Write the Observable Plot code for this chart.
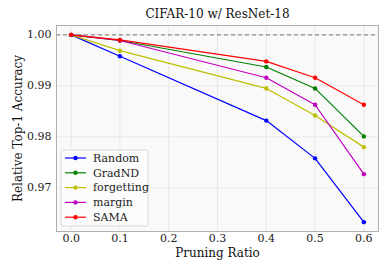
<!DOCTYPE html>
<html>
<head>
<meta charset="utf-8">
<script src="https://cdn.jsdelivr.net/npm/d3@7"></script>
<script src="https://cdn.jsdelivr.net/npm/@observablehq/plot@0.6"></script>
<style>
  html, body { margin: 0; padding: 0; background: #fff; }
  #chart svg { display: block; font-family: "DejaVu Serif", serif; }
</style>
</head>
<body>
<div id="chart"></div>
<script>
const title = "CIFAR-10 w/ ResNet-18";
const xLabel = "Pruning Ratio";
const yLabel = "Relative Top-1 Accuracy";
const ratios = [0.0, 0.1, 0.4, 0.5, 0.6];
const xTicks = [0.0, 0.1, 0.2, 0.3, 0.4, 0.5, 0.6];
const yTicks = [0.97, 0.98, 0.99, 1.00];
const seriesNames = ["Random", "GradND", "forgetting", "margin", "SAMA"];
const seriesColors = ["#0000ff", "#008000", "#bfbf00", "#bf00bf", "#ff0000"];
const randomVals = [1.0, 0.9958, 0.9832, 0.9758, 0.9633];
const gradndVals = [1.0, 0.9989, 0.9937, 0.9895, 0.9801];
const forgettingVals = [1.0, 0.9969, 0.9895, 0.9842, 0.9780];
const marginVals = [1.0, 0.9989, 0.9916, 0.9863, 0.9727];
const samaVals = [1.0, 0.9990, 0.9948, 0.9916, 0.9863];
const baseline = 1.0;

const allVals = [randomVals, gradndVals, forgettingVals, marginVals, samaVals];
const rows = [];
seriesNames.forEach((name, i) => {
  allVals[i].forEach((v, j) => rows.push({series: name, x: ratios[j], y: v}));
});
const colorScale = {domain: seriesNames, range: seriesColors};

const yMin = d3.min(rows, d => d.y), yMax = d3.max(rows, d => d.y);
const yPad = (yMax - yMin) * 0.05;
const xPad = (d3.max(ratios) - d3.min(ratios)) * 0.05;

const plot = Plot.plot({
  width: 390,
  height: 273,
  marginLeft: 56,
  marginRight: 12,
  marginTop: 25,
  marginBottom: 42,
  style: {fontFamily: "DejaVu Serif, serif", fontSize: "11px", color: "#222", background: "#fff"},
  x: {domain: [d3.min(ratios) - xPad, d3.max(ratios) + xPad], ticks: xTicks, tickFormat: d3.format(".1f"), tickSize: 0, tickPadding: 3, label: null},
  y: {domain: [yMin - yPad, yMax + yPad], ticks: yTicks, tickFormat: d3.format(".2f"), tickSize: 0, tickPadding: 5, label: null},
  color: colorScale,
  marks: [
    Plot.frame({fill: "#f9f9f9"}),
    Plot.gridX(xTicks, {stroke: "#e3e3e3", strokeOpacity: 1, strokeWidth: 0.8}),
    Plot.gridY(yTicks, {stroke: "#e3e3e3", strokeOpacity: 1, strokeWidth: 0.8}),
    Plot.ruleY([baseline], {stroke: "#777", strokeWidth: 1, strokeDasharray: "4,3"}),
    Plot.line(rows, {x: "x", y: "y", z: "series", stroke: "series", strokeWidth: 1.2}),
    Plot.dot(rows, {x: "x", y: "y", fill: "series", r: 2.2}),
    Plot.frame({stroke: "#b0b0b0", strokeWidth: 1}),
    Plot.text([title], {frameAnchor: "top", dy: -8, lineAnchor: "bottom", fontSize: 12, fill: "#111"}),
    Plot.text([xLabel], {frameAnchor: "bottom", dy: 22, lineAnchor: "middle", fontSize: 12, fill: "#111"}),
    Plot.text([yLabel], {frameAnchor: "left", dx: -38, rotate: -90, textAnchor: "middle", lineAnchor: "middle", fontSize: 12, fill: "#111"})
  ]
});
document.getElementById("chart").appendChild(plot);

// Legend drawn inside the plot area (lower-left)
const svg = d3.select(plot);
const lg = svg.append("g").attr("transform", "translate(61,150)");
lg.append("rect").attr("width", 87).attr("height", 76).attr("rx", 2)
  .attr("fill", "#fcfcfc").attr("fill-opacity", 0.9).attr("stroke", "#d8d8d8");
seriesNames.forEach((name, i) => {
  const yy = 8 + i * 14.8;
  lg.append("line").attr("x1", 4).attr("x2", 25).attr("y1", yy).attr("y2", yy)
    .attr("stroke", seriesColors[i]).attr("stroke-width", 1.2);
  lg.append("circle").attr("cx", 14.5).attr("cy", yy).attr("r", 2.2).attr("fill", seriesColors[i]);
  lg.append("text").attr("x", 32).attr("y", yy).attr("dy", "0.35em")
    .attr("text-anchor", "start")
    .attr("font-size", 11).attr("fill", "#222").text(name);
});
</script>
</body>
</html>
